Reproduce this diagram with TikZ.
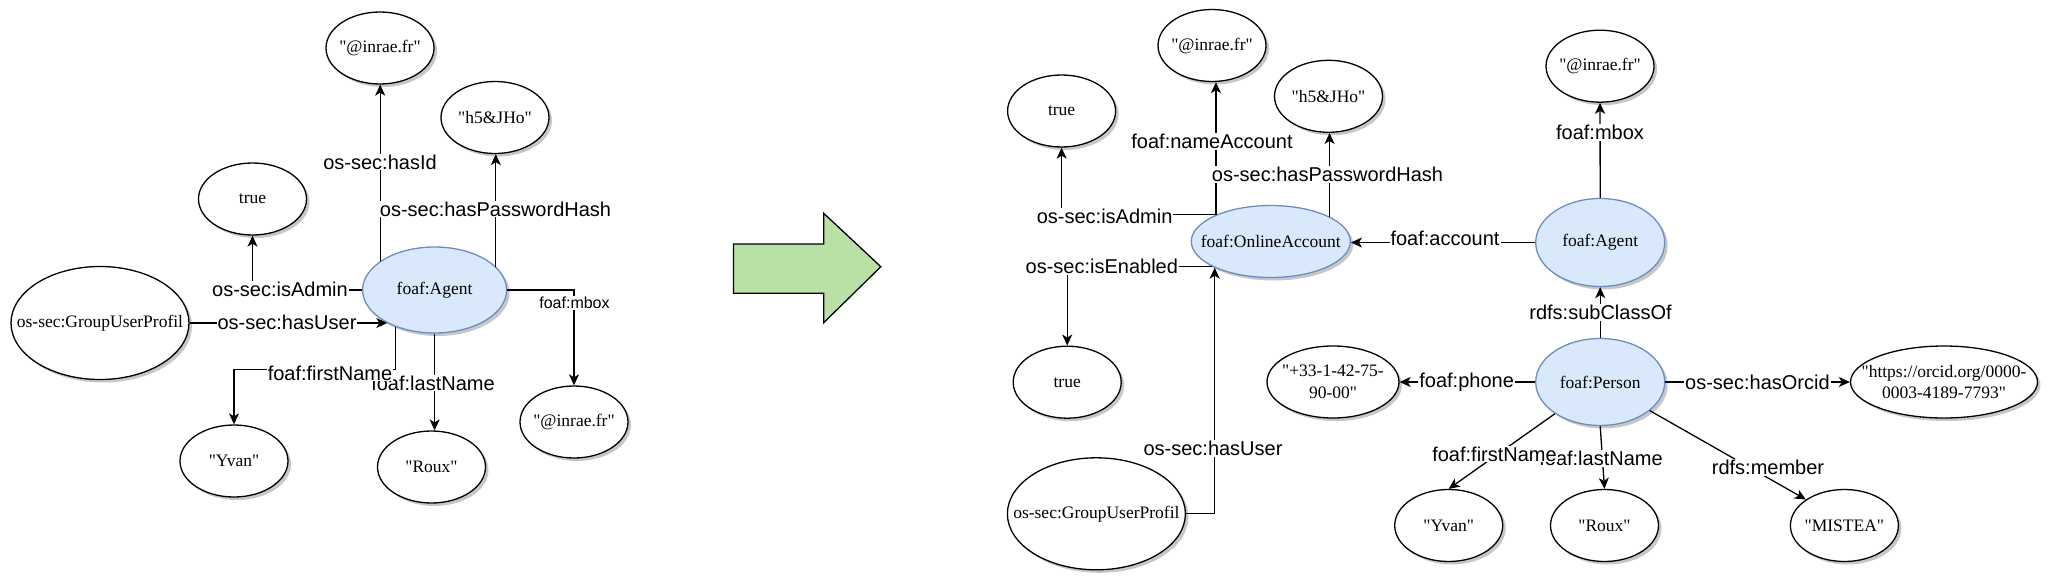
\documentclass[tikz,border=0pt]{standalone}
\usepackage{fontspec}
\setmainfont{Liberation Serif}[Ligatures=TeXOff]
\newfontfamily\lblfont{Liberation Sans}
\usetikzlibrary{shapes.geometric,arrows.meta,shadows}
\definecolor{blueF}{HTML}{DAE8FC}
\definecolor{blueD}{HTML}{6C8EBF}
\definecolor{greenF}{HTML}{B9E0A5}
\newcommand\elnode[6]{\node[#1, minimum width=#4pt, minimum height=#5pt] (#2) at (#3) {}; \node[txt] (#2-t) at (#2.center) {#6};}
\begin{document}
\begin{tikzpicture}[x=1pt,y=-1pt,
  lit/.style={ellipse, draw=black, fill=white, line width=1.3pt, inner sep=0pt,
    drop shadow={shadow xshift=3pt, shadow yshift=-3pt, fill=black, opacity=0.22}},
  cls/.style={lit, fill=blueF, draw=blueD},
  txt/.style={font=\fontsize{17.5}{21.7}\selectfont, align=center, inner sep=0pt},
  lbl/.style={fill=white, inner sep=1pt, font=\lblfont\fontsize{20}{24}\selectfont},
  slbl/.style={fill=white, inner sep=1pt, font=\lblfont\fontsize{16}{19}\selectfont},
  arr/.style={line width=1.3pt, -{Stealth[length=11pt,width=10pt,inset=3pt]}},
  ln/.style={line width=1.3pt}
]
\useasboundingbox (0,0) rectangle (2059,581);

% ---------- left graph ----------
\elnode{lit}{inrae1}{380,48}{108}{72}{"@inrae.fr"}
\elnode{lit}{h5a}{495,117.5}{108}{72}{"h5\&JHo"}
\elnode{lit}{true1}{252.5,199}{108}{72}{true}
\elnode{cls}{agent1}{434.6,290}{144}{86}{foaf:Agent}
\elnode{lit}{gup1}{100,323}{178}{113}{os-sec:GroupUserProfil}
\elnode{lit}{yvan1}{234,461}{108}{72}{"Yvan"}
\elnode{lit}{roux1}{431.5,467}{108}{72}{"Roux"}
\elnode{lit}{mbox1}{574,422}{108}{72}{"@inrae.fr"}

\coordinate (fn1) at (0,369.3);
\draw[arr] (agent1.152.8) -- (agent1.152.8 |- inrae1.south);
\draw[arr] (agent1.21.6) -- (agent1.21.6 |- h5a.south);
\draw[arr] (agent1.west) -| (true1.south);
\draw[arr] (gup1.east) -- (gup1.east -| agent1.215.5);
\draw[arr] (agent1.east) -| (mbox1.north);
\draw[arr] (agent1.south) -- (agent1.south |- roux1.north);
\draw[arr] (agent1.223.7) -- (agent1.223.7 |- fn1) -| (yvan1.north);

\node[lbl] (l1) at (380,162) {os-sec:hasId};
\node[lbl] (l2) at (495.5,209) {os-sec:hasPasswordHash};
\node[lbl] (l3) at (280,289) {os-sec:isAdmin};
\node[lbl] (l4) at (287,322) {os-sec:hasUser};
\node[slbl] (l5) at (574.5,303) {foaf:mbox};
\node[lbl] (l6) at (433,383) {foaf:lastName};
\node[lbl] (l7) at (330,373) {foaf:firstName};

% ---------- big arrow ----------
\draw[line width=1.3pt, fill=greenF] (733.5,244) -- (823.7,244) -- (823.7,213.3)
  -- (880.8,266.7) -- (823.7,322.7) -- (823.7,293.3) -- (733.5,293.3) -- cycle;

% ---------- right graph ----------
\elnode{lit}{true2}{1061.6,111}{108}{72}{true}
\elnode{lit}{inrae2}{1212,45.5}{108}{72}{"@inrae.fr"}
\elnode{lit}{h5b}{1328.5,96.3}{108}{72}{"h5\&JHo"}
\elnode{cls}{oa}{1270.8,241.5}{159}{72}{foaf:OnlineAccount}
\elnode{lit}{true3}{1067.2,382.2}{108}{72}{true}
\elnode{lit}{gup2}{1096.4,513.8}{178}{112}{os-sec:GroupUserProfil}
\elnode{lit}{phone}{1333,382}{132}{72}{"+33-1-42-75-\\90-00"}
\elnode{lit}{inrae3}{1600,66.2}{108}{72}{"@inrae.fr"}
\elnode{cls}{agent2}{1600.2,242.5}{129}{88}{foaf:Agent}
\elnode{cls}{person}{1600.2,382}{129}{87}{foaf:Person}
\elnode{lit}{orcid}{1944,382}{187}{72}{"https://orcid.org/0000-\\0003-4189-7793"}
\elnode{lit}{yvan2}{1448.7,525.5}{108}{72}{"Yvan"}
\elnode{lit}{roux2}{1604.5,525.5}{108}{72}{"Roux"}
\elnode{lit}{mistea}{1844.4,525.5}{108}{72}{"MISTEA"}

\draw[arr] (oa.154.8) -- (oa.154.8 |- inrae2.south);
\draw[arr] (oa.154.8) -| (true2.south);
\draw[arr] (oa.23.6) -- (oa.23.6 |- h5b.south);
\draw[arr] (oa.203.9) -| (true3.north);
\draw[arr] (gup2.east) -| (oa.205.9);
\draw[arr] (agent2.west) -- (agent2.west -| oa.east);
\draw[arr] (agent2.north) -- (inrae3.south);
\draw[arr] (person.north) -- (agent2.south);
\draw[arr] (person.west) -- (phone.east);
\draw[arr] (person.east) -- (orcid.west);
\draw[arr] (person.south) -- (roux2.north);
\draw[arr] (person.215.8) -- (yvan2.north);
\draw[arr] (person.-30.2) -- (mistea.146.8);

\node[lbl] (r1) at (1212,141.7) {foaf:nameAccount};
\node[lbl] (r2) at (1104.6,216) {os-sec:isAdmin};
\node[lbl] (r3) at (1327.5,174.3) {os-sec:hasPasswordHash};
\node[lbl] (r4) at (1101.8,266.7) {os-sec:isEnabled};
\node[lbl] (r5) at (1213,448.3) {os-sec:hasUser};
\node[lbl] (r6) at (1445,238.7) {foaf:account};
\node[lbl] (r7) at (1600,132.7) {foaf:mbox};
\node[lbl] (r8) at (1600.5,312.3) {rdfs:subClassOf};
\node[lbl] (r9) at (1466.6,382.7) {foaf:phone};
\node[lbl] (r10) at (1757.4,382) {os-sec:hasOrcid};
\node[lbl] (r11) at (1601,458.3) {foaf:lastName};
\node[lbl] (r12) at (1494.5,454) {foaf:firstName};
\node[lbl] (r13) at (1768,467.3) {rdfs:member};
\end{tikzpicture}
\end{document}
